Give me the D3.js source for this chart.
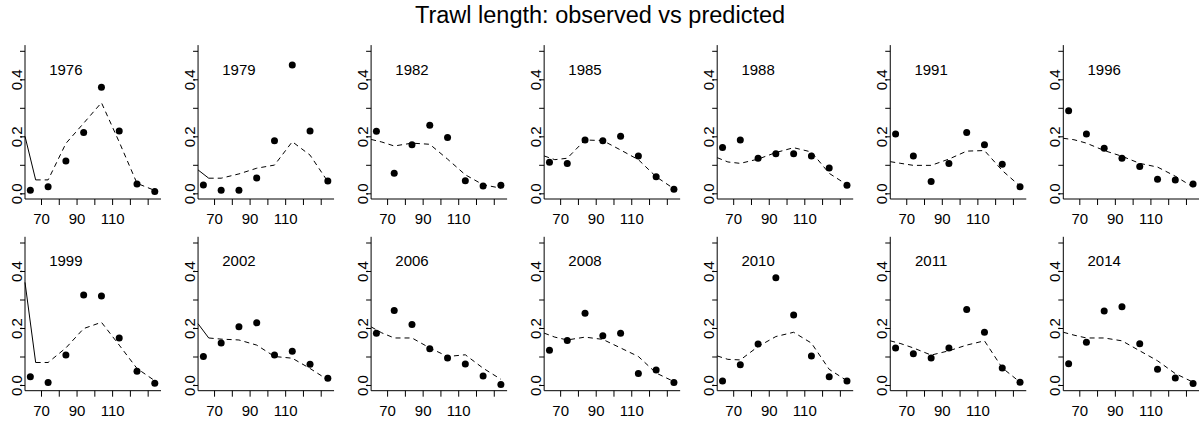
<!DOCTYPE html>
<html>
<head>
<meta charset="utf-8">
<script src="https://cdn.jsdelivr.net/npm/d3@7"></script>
<style>
  body { margin: 0; background: #fff; }
  text { font-family: "Liberation Sans", Arial, sans-serif; fill: #000; }
</style>
</head>
<body>
<svg id="chart" width="1199" height="430"></svg>
<script>
// lata w panelach (2 rzedy po 7)
const years = [1976, 1979, 1982, 1985, 1988, 1991, 1996,
               1999, 2002, 2006, 2008, 2010, 2011, 2014];

// srodki klas dlugosci dla obserwacji i dla krzywej modelu
const lenX  = [64, 74, 84, 94, 104, 114, 124, 134];
const predX = [61, 67, 74, 84, 94, 104, 114, 124, 134];

const observed = [
  [0.011, 0.023, 0.113, 0.213, 0.372, 0.219, 0.033, 0.006],
  [0.029, 0.011, 0.011, 0.054, 0.184, 0.450, 0.219, 0.043],
  [0.218, 0.070, 0.170, 0.239, 0.196, 0.044, 0.026, 0.028],
  [0.109, 0.105, 0.187, 0.184, 0.200, 0.131, 0.058, 0.014],
  [0.161, 0.187, 0.123, 0.139, 0.139, 0.131, 0.089, 0.028],
  [0.208, 0.131, 0.041, 0.105, 0.213, 0.170, 0.102, 0.023],
  [0.290, 0.208, 0.158, 0.123, 0.094, 0.049, 0.047, 0.033],
  [0.029, 0.009, 0.105, 0.316, 0.312, 0.165, 0.048, 0.006],
  [0.100, 0.147, 0.204, 0.218, 0.105, 0.118, 0.073, 0.024],
  [0.182, 0.261, 0.212, 0.127, 0.095, 0.074, 0.032, 0.002],
  [0.122, 0.156, 0.252, 0.173, 0.182, 0.040, 0.053, 0.009],
  [0.014, 0.071, 0.144, 0.376, 0.246, 0.102, 0.029, 0.014],
  [0.130, 0.110, 0.095, 0.130, 0.265, 0.185, 0.060, 0.010],
  [0.075, 0.150, 0.260, 0.275, 0.145, 0.055, 0.025, 0.005]
];

const predicted = [
  [0.200, 0.047, 0.047, 0.175, 0.246, 0.318, 0.180, 0.035, 0.010],
  [0.082, 0.053, 0.053, 0.068, 0.088, 0.099, 0.181, 0.134, 0.041],
  [0.189, 0.180, 0.166, 0.176, 0.172, 0.120, 0.065, 0.030, 0.018],
  [0.131, 0.118, 0.123, 0.187, 0.185, 0.152, 0.118, 0.058, 0.016],
  [0.125, 0.110, 0.105, 0.120, 0.143, 0.160, 0.145, 0.070, 0.030],
  [0.111, 0.105, 0.098, 0.098, 0.120, 0.148, 0.150, 0.080, 0.025],
  [0.193, 0.188, 0.176, 0.150, 0.130, 0.105, 0.092, 0.060, 0.022],
  [0.360, 0.079, 0.079, 0.130, 0.198, 0.220, 0.140, 0.058, 0.015],
  [0.215, 0.165, 0.161, 0.158, 0.140, 0.100, 0.094, 0.058, 0.018],
  [0.204, 0.183, 0.165, 0.165, 0.130, 0.100, 0.106, 0.059, 0.020],
  [0.182, 0.168, 0.158, 0.168, 0.160, 0.130, 0.100, 0.042, 0.012],
  [0.102, 0.090, 0.088, 0.135, 0.170, 0.185, 0.147, 0.055, 0.015],
  [0.155, 0.145, 0.130, 0.105, 0.120, 0.140, 0.155, 0.060, 0.010],
  [0.185, 0.175, 0.165, 0.165, 0.155, 0.120, 0.085, 0.040, 0.010]
];

// panele, w ktorych pierwszy odcinek krzywej jest ciagly
const solidLead = [1976, 1979, 1999, 2002];

const yTicks = [0, 0.1, 0.2, 0.3, 0.4, 0.5];
const yLabels = [0, 0.2, 0.4];
const xTicks = [70, 80, 90, 100, 110, 120, 130];
const xLabels = [70, 90, 110];

const svg = d3.select("#chart");

svg.append("text")
  .attr("x", 600).attr("y", 23)
  .attr("text-anchor", "middle")
  .style("font-size", "23.5px")
  .text("Trawl length: observed vs predicted");

const NCOL = 7;
const colStep = 173.05;
const rowStep = 191.7;
const unitY = 285;   // piksele na 1.0

years.forEach(function(year, i) {
  const col = i % NCOL, row = Math.floor(i / NCOL);
  const x0 = 25 + col * colStep;
  const zero = 193.3 + row * rowStep;
  const top = zero - 0.52 * unitY, bottom = zero + 0.02 * unitY;

  const x = d3.scaleLinear().domain([61, 137.5]).range([x0, x0 + 136]);
  const y = d3.scaleLinear().domain([-0.02, 0.52]).range([bottom, top]);

  const g = svg.append("g").attr("class", "panel");

  // ramka typu "L"
  g.append("path")
    .attr("d", `M${x0},${top}V${bottom}H${x0 + 136}`)
    .attr("fill", "none").attr("stroke", "#000").attr("stroke-width", 1);

  const yAxis = g.append("g")
    .attr("transform", `translate(${x0},0)`)
    .call(d3.axisLeft(y).tickValues(yTicks).tickSize(5).tickSizeOuter(0)
      .tickFormat(d => yLabels.some(v => Math.abs(v - d) < 1e-9) ? d3.format(".1f")(d) : ""));
  yAxis.select(".domain").remove();
  yAxis.selectAll("line").attr("stroke", "#000");
  yAxis.selectAll("text")
    .attr("x", null).attr("dy", null)
    .attr("text-anchor", "middle")
    .attr("transform", "translate(-3.5,0) rotate(-90)")
    .style("font-size", "15px").attr("fill", "#000");

  const xAxis = g.append("g")
    .attr("transform", `translate(0,${bottom})`)
    .call(d3.axisBottom(x).tickValues(xTicks).tickSize(6).tickSizeOuter(0)
      .tickFormat(d => xLabels.includes(d) ? d : ""));
  xAxis.select(".domain").remove();
  xAxis.selectAll("line").attr("stroke", "#000");
  xAxis.selectAll("text")
    .attr("y", 25).attr("dy", null)
    .style("font-size", "15px").attr("fill", "#000");

  // krzywa modelu
  const pts = predX.map((px, k) => [px, predicted[i][k]]);
  const line = d3.line().x(d => x(d[0])).y(d => y(d[1]));
  const lead = solidLead.includes(year);
  if (lead) {
    g.append("path").attr("d", line(pts.slice(0, 2)))
      .attr("fill", "none").attr("stroke", "#000").attr("stroke-width", 1);
  }
  g.append("path").attr("d", line(lead ? pts.slice(1) : pts))
    .attr("fill", "none").attr("stroke", "#000").attr("stroke-width", 1)
    .attr("stroke-dasharray", "5,4");

  // obserwacje
  g.selectAll("circle.obs")
    .data(observed[i])
    .join("circle")
    .attr("class", "obs")
    .attr("cx", (d, k) => x(lenX[k]))
    .attr("cy", d => y(d))
    .attr("r", 3.5)
    .attr("fill", "#000");

  g.append("text")
    .attr("x", x(84)).attr("y", y(0.435))
    .attr("dy", "0.35em")
    .attr("text-anchor", "middle")
    .style("font-size", "15px")
    .text(year);
});
</script>
</body>
</html>
